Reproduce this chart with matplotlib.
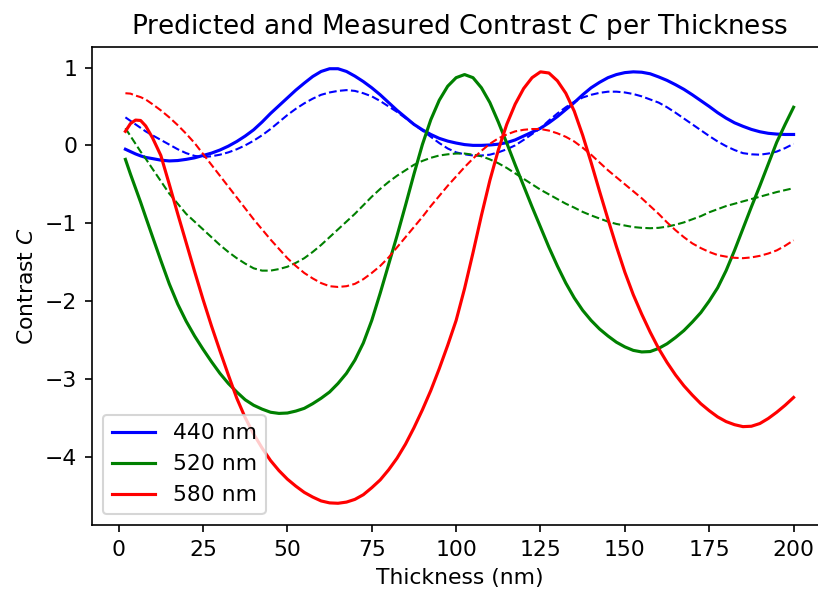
import matplotlib
matplotlib.use("Agg")
import matplotlib.pyplot as plt

plt.rcParams["font.size"] = 10.5

# Film thickness in nm (shared sampling grid for all series)
thickness = [2, 3.5, 5, 6.5, 8, 10, 12.5, 15, 17.5, 20, 22.5, 25, 27.5, 30, 32.5, 35,
             37.5, 40, 42.5, 45, 47.5, 50, 52.5, 55, 57.5, 60, 62.5, 65, 67.5, 70,
             72.5, 75, 77.5, 80, 82.5, 85, 87.5, 90, 92.5, 95, 97.5, 100, 102.5, 105,
             107.5, 110, 112.5, 115, 117.5, 120, 122.5, 125, 127.5, 130, 132.5, 135,
             137.5, 140, 142.5, 145, 147.5, 150, 152.5, 155, 157.5, 160, 162.5, 165,
             167.5, 170, 172.5, 175, 177.5, 180, 182.5, 185, 187.5, 190, 192.5, 195,
             197.5, 200]

# Measured contrast (solid lines)
measured_440 = [-0.05, -0.08, -0.11, -0.135, -0.155, -0.17, -0.19, -0.20, -0.195, -0.18,
                -0.16, -0.13, -0.10, -0.06, -0.01, 0.05, 0.12, 0.20, 0.30, 0.41, 0.51,
                0.61, 0.71, 0.80, 0.885, 0.95, 0.985, 0.985, 0.95, 0.89, 0.82, 0.74,
                0.65, 0.55, 0.45, 0.36, 0.27, 0.20, 0.14, 0.09, 0.055, 0.03, 0.01,
                0.00, 0.00, 0.005, 0.015, 0.035, 0.07, 0.12, 0.17, 0.22, 0.29, 0.37,
                0.46, 0.55, 0.65, 0.74, 0.81, 0.87, 0.91, 0.935, 0.945, 0.94, 0.92,
                0.88, 0.835, 0.78, 0.72, 0.65, 0.575, 0.50, 0.42, 0.35, 0.29, 0.245,
                0.205, 0.175, 0.155, 0.145, 0.14, 0.14]
measured_520 = [-0.18, -0.37, -0.55, -0.73, -0.92, -1.17, -1.48, -1.78, -2.04, -2.26,
                -2.45, -2.62, -2.78, -2.93, -3.06, -3.17, -3.27, -3.34, -3.39, -3.43,
                -3.445, -3.44, -3.415, -3.38, -3.32, -3.25, -3.17, -3.06, -2.93,
                -2.76, -2.54, -2.25, -1.90, -1.53, -1.16, -0.77, -0.37, 0.01, 0.33,
                0.58, 0.76, 0.87, 0.91, 0.87, 0.74, 0.55, 0.30, 0.03, -0.25, -0.52,
                -0.79, -1.05, -1.31, -1.55, -1.77, -1.96, -2.12, -2.25, -2.36, -2.45,
                -2.53, -2.59, -2.635, -2.655, -2.65, -2.61, -2.55, -2.47, -2.38,
                -2.27, -2.15, -2.00, -1.83, -1.61, -1.35, -1.07, -0.79, -0.52, -0.24,
                0.04, 0.27, 0.49]
measured_580 = [0.18, 0.28, 0.325, 0.32, 0.25, 0.10, -0.13, -0.50, -0.88, -1.25,
                -1.62, -1.98, -2.32, -2.64, -2.95, -3.25, -3.50, -3.71, -3.89, -4.05,
                -4.18, -4.29, -4.38, -4.46, -4.52, -4.57, -4.595, -4.60, -4.585,
                -4.55, -4.49, -4.40, -4.30, -4.17, -4.02, -3.84, -3.63, -3.40, -3.15,
                -2.87, -2.57, -2.25, -1.84, -1.38, -0.90, -0.45, -0.06, 0.27, 0.53,
                0.73, 0.87, 0.945, 0.93, 0.83, 0.67, 0.44, 0.13, -0.22, -0.59, -0.95,
                -1.30, -1.63, -1.92, -2.17, -2.40, -2.61, -2.79, -2.95, -3.09, -3.21,
                -3.32, -3.41, -3.49, -3.55, -3.59, -3.615, -3.61, -3.575, -3.51, -3.43,
                -3.34, -3.24]

# Predicted contrast (dashed lines)
predicted_440 = [0.36, 0.315, 0.27, 0.225, 0.18, 0.13, 0.07, 0.01, -0.05, -0.10,
                 -0.135, -0.15, -0.14, -0.12, -0.09, -0.05, 0.00, 0.06, 0.13, 0.21,
                 0.30, 0.39, 0.47, 0.54, 0.60, 0.65, 0.68, 0.70, 0.71, 0.70, 0.67,
                 0.63, 0.57, 0.50, 0.43, 0.35, 0.27, 0.19, 0.11, 0.03, -0.04, -0.09,
                 -0.115, -0.13, -0.13, -0.12, -0.09, -0.05, 0.00, 0.07, 0.145, 0.22,
                 0.32, 0.41, 0.49, 0.56, 0.615, 0.65, 0.675, 0.69, 0.69, 0.68, 0.66,
                 0.63, 0.59, 0.55, 0.49, 0.42, 0.345, 0.27, 0.195, 0.12, 0.05, -0.01,
                 -0.06, -0.10, -0.115, -0.12, -0.105, -0.08, -0.035, 0.02]
predicted_520 = [0.22, 0.12, 0.02, -0.08, -0.17, -0.30, -0.46, -0.62, -0.75, -0.88,
                 -0.98, -1.08, -1.18, -1.28, -1.37, -1.45, -1.52, -1.58, -1.61, -1.61,
                 -1.59, -1.56, -1.51, -1.45, -1.37, -1.28, -1.18, -1.08, -0.98, -0.88,
                 -0.77, -0.66, -0.56, -0.47, -0.39, -0.32, -0.25, -0.20, -0.16, -0.13,
                 -0.115, -0.105, -0.105, -0.12, -0.14, -0.18, -0.23, -0.29, -0.36,
                 -0.43, -0.50, -0.57, -0.63, -0.69, -0.75, -0.80, -0.855, -0.90, -0.94,
                 -0.98, -1.01, -1.03, -1.05, -1.06, -1.065, -1.06, -1.045, -1.02,
                 -0.99, -0.95, -0.91, -0.86, -0.82, -0.78, -0.75, -0.72, -0.69, -0.66,
                 -0.63, -0.60, -0.575, -0.55]
predicted_580 = [0.67, 0.665, 0.64, 0.62, 0.59, 0.53, 0.45, 0.36, 0.26, 0.15, 0.03,
                 -0.11, -0.25, -0.39, -0.53, -0.67, -0.81, -0.95, -1.08, -1.21, -1.33,
                 -1.45, -1.55, -1.64, -1.71, -1.77, -1.81, -1.82, -1.81, -1.78, -1.72,
                 -1.64, -1.55, -1.44, -1.31, -1.18, -1.05, -0.92, -0.78, -0.65, -0.52,
                 -0.40, -0.28, -0.17, -0.07, 0.02, 0.09, 0.14, 0.18, 0.20, 0.21, 0.21,
                 0.19, 0.155, 0.11, 0.05, -0.03, -0.12, -0.22, -0.32, -0.41, -0.50,
                 -0.59, -0.68, -0.78, -0.88, -0.99, -1.09, -1.18, -1.26, -1.32, -1.37,
                 -1.41, -1.43, -1.445, -1.45, -1.44, -1.42, -1.39, -1.35, -1.29, -1.22]

labels = ["440 nm", "520 nm", "580 nm"]
colors = ["blue", "green", "red"]
measured = [measured_440, measured_520, measured_580]
predicted = [predicted_440, predicted_520, predicted_580]

fig = plt.figure(figsize=(818 / 150, 589 / 150), dpi=150)
ax = fig.add_axes([92 / 818, 64 / 589, 735 / 818, 478 / 589])

for lab, col, meas, pred in zip(labels, colors, measured, predicted):
    ax.plot(thickness, meas, color=col, linewidth=1.5, label=lab)
    ax.plot(thickness, pred, color=col, linewidth=1.0, linestyle="--")

ax.set_title("Predicted and Measured Contrast $C$ per Thickness")
ax.set_xlabel("Thickness (nm)")
ax.set_ylabel("Contrast $C$")
ax.legend(loc="lower left")

fig.savefig("out.png", dpi=150)
